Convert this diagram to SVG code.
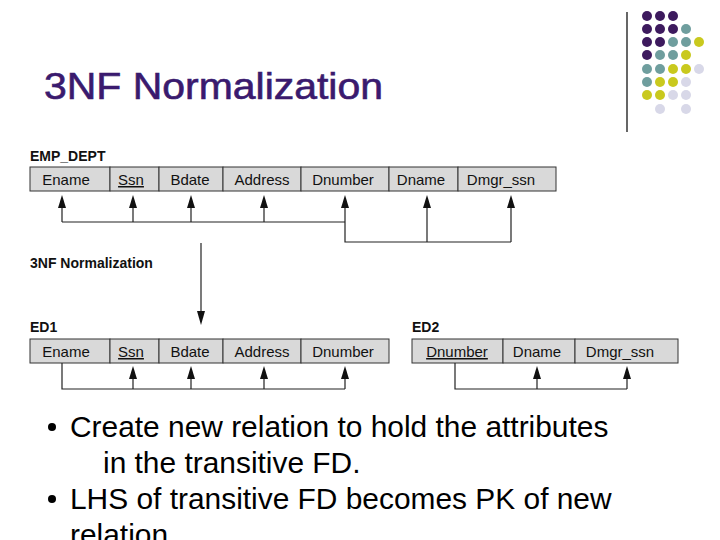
<svg xmlns="http://www.w3.org/2000/svg" width="720" height="540" viewBox="0 0 720 540">
<style>
.c{fill:#d9d9d9;stroke:#333;stroke-width:1}
.t{font-family:"Liberation Sans",Arial,sans-serif;font-size:15px;fill:#111;text-anchor:middle}
.l{font-family:"Liberation Sans",Arial,sans-serif;font-size:14px;font-weight:bold;fill:#111}
.b{font-family:"Liberation Sans",Arial,sans-serif;font-size:29.9px;fill:#000}
.w{fill:none;stroke:#222;stroke-width:1.2}
.h{fill:#111}
</style>
<rect width="720" height="540" fill="#fff"/>
<g id="deco">
<line x1="627" y1="12" x2="627" y2="132" stroke="#000" stroke-width="1.2"/>
<g fill="#3d1a5e"><circle cx="647" cy="16" r="5"/><circle cx="660" cy="16" r="5"/><circle cx="673" cy="16" r="5"/><circle cx="647" cy="29" r="5"/><circle cx="660" cy="29" r="5"/><circle cx="673" cy="29" r="5"/><circle cx="647" cy="42" r="5"/><circle cx="660" cy="42" r="5"/><circle cx="647" cy="55" r="5"/></g>
<g fill="#6f9e9e"><circle cx="686" cy="29" r="5"/><circle cx="673" cy="42" r="5"/><circle cx="686" cy="42" r="5"/><circle cx="660" cy="55" r="5"/><circle cx="673" cy="55" r="5"/><circle cx="647" cy="69" r="5"/><circle cx="660" cy="69" r="5"/><circle cx="647" cy="82" r="5"/></g>
<g fill="#c9c91e"><circle cx="699" cy="42" r="5"/><circle cx="686" cy="55" r="5"/><circle cx="673" cy="69" r="5"/><circle cx="686" cy="69" r="5"/><circle cx="660" cy="82" r="5"/><circle cx="673" cy="82" r="5"/><circle cx="647" cy="95" r="5"/><circle cx="660" cy="95" r="5"/></g>
<g fill="#d8d8e8"><circle cx="699" cy="69" r="5"/><circle cx="686" cy="82" r="5"/><circle cx="673" cy="95" r="5"/><circle cx="686" cy="95" r="5"/><circle cx="660" cy="109" r="5"/><circle cx="686" cy="109" r="5"/></g>
</g>
<text x="44" y="99" font-family="Liberation Sans,Arial,sans-serif" font-size="36" fill="#3a1a6e" stroke="#3a1a6e" stroke-width="0.6" textLength="339" lengthAdjust="spacingAndGlyphs">3NF Normalization</text>
<g id="emp_dept">
<text class="l" x="30" y="161">EMP_DEPT</text>
<rect class="c" x="30" y="167" width="80" height="24"/><rect class="c" x="110" y="167" width="49" height="24"/><rect class="c" x="159" y="167" width="64" height="24"/><rect class="c" x="223" y="167" width="78" height="24"/><rect class="c" x="301" y="167" width="88" height="24"/><rect class="c" x="389" y="167" width="69" height="24"/><rect class="c" x="458" y="167" width="98" height="24"/>
<text class="t" x="66" y="185">Ename</text><text class="t" x="131" y="185" text-decoration="underline">Ssn</text><text class="t" x="190" y="185">Bdate</text><text class="t" x="262" y="185">Address</text><text class="t" x="343" y="185">Dnumber</text><text class="t" x="421" y="185">Dname</text><text class="t" x="501" y="185">Dmgr_ssn</text>
</g>
<text class="l" x="30" y="268">3NF Normalization</text>
<g id="ed1">
<text class="l" x="30" y="332">ED1</text>
<rect class="c" x="30" y="339" width="80" height="24"/><rect class="c" x="110" y="339" width="49" height="24"/><rect class="c" x="159" y="339" width="64" height="24"/><rect class="c" x="223" y="339" width="78" height="24"/><rect class="c" x="301" y="339" width="88" height="24"/>
<text class="t" x="66" y="357">Ename</text><text class="t" x="131" y="357" text-decoration="underline">Ssn</text><text class="t" x="190" y="357">Bdate</text><text class="t" x="262" y="357">Address</text><text class="t" x="343" y="357">Dnumber</text>
</g>
<g id="ed2">
<text class="l" x="412" y="332">ED2</text>
<rect class="c" x="412" y="339" width="91" height="24"/><rect class="c" x="503" y="339" width="72" height="24"/><rect class="c" x="575" y="339" width="103" height="24"/>
<text class="t" x="457" y="357" text-decoration="underline">Dnumber </text><text class="t" x="537" y="357">Dname</text><text class="t" x="620" y="357">Dmgr_ssn</text>
</g>
<g id="connectors">
<path class="w" d="M62,222 H345"/>
<path class="w" d="M62,222 V206 M133,222 V206 M191,222 V206 M264,222 V206 M345,222 V206"/>
<path class="w" d="M345,222 V242 H511 M427,242 V206 M511,242 V206"/>
<g class="h">
<path d="M58,208 L62,195 L66,208Z"/><path d="M129,208 L133,195 L137,208Z"/><path d="M187,208 L191,195 L195,208Z"/><path d="M260,208 L264,195 L268,208Z"/><path d="M341,208 L345,195 L349,208Z"/><path d="M423,208 L427,195 L431,208Z"/><path d="M507,208 L511,195 L515,208Z"/>
</g>
<path class="w" d="M201,243 V312"/><path class="h" d="M197,311 L201,325 L205,311Z"/>
<path class="w" d="M62,363 V389 H345 M133,389 V377 M191,389 V377 M264,389 V377 M345,389 V377"/>
<g class="h"><path d="M129,379 L133,366 L137,379Z"/><path d="M187,379 L191,366 L195,379Z"/><path d="M260,379 L264,366 L268,379Z"/><path d="M341,379 L345,366 L349,379Z"/></g>
<path class="w" d="M455,363 V389 H627 M537,389 V377 M627,389 V377"/>
<g class="h"><path d="M533,379 L537,366 L541,379Z"/><path d="M623,379 L627,366 L631,379Z"/></g>
</g>
<g id="bullets">
<circle cx="52" cy="427" r="4" fill="#000"/><circle cx="52" cy="499" r="4" fill="#000"/>
<text class="b" x="70" y="437">Create new relation to hold the attributes</text>
<text class="b" x="103" y="473">in the transitive FD.</text>
<text class="b" x="70" y="509">LHS of transitive FD becomes PK of new</text>
<text class="b" x="70" y="545">relation</text>
</g>
</svg>
